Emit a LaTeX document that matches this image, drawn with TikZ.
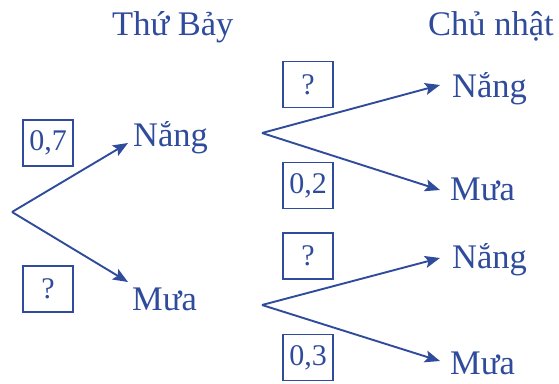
\documentclass[tikz,border=0pt]{standalone}
\usepackage{fontspec}
\setmainfont{Liberation Serif}
\usetikzlibrary{arrows.meta}
\definecolor{tb}{HTML}{2F4B9B}
\tikzset{
  lbl/.style={text=tb,font=\fontsize{34.5}{38}\selectfont,inner sep=0pt,anchor=base west},
  pbox/.style={draw=tb,line width=1.3pt,text=tb,font=\fontsize{30}{32}\selectfont,minimum width=50pt,minimum height=46pt,inner sep=0pt},
  arr/.style={draw=tb,line width=1.9pt,-{Stealth[length=15pt,width=12pt,inset=3pt]}}
}
\begin{document}
\begin{tikzpicture}[x=1pt,y=-1pt]
\useasboundingbox (0,0) rectangle (559,383);
% headings
\node[lbl] (h1) at (112,35) {Thứ Bảy};
\node[lbl] (h2) at (428,35) {Chủ nhật};
% roots
\coordinate (r0) at (12,212);
\coordinate (r1) at (262,133);
\coordinate (r2) at (262,305);
% labels
\node[lbl] (n1) at (133,146) {Nắng};
\node[lbl] (m1) at (132,310) {Mưa};
\node[lbl] (n2) at (452,97) {Nắng};
\node[lbl] (m2) at (450,200) {Mưa};
\node[lbl] (n3) at (452,268) {Nắng};
\node[lbl] (m3) at (450,374) {Mưa};
% arrows
\draw[arr] (r0) -- ([xshift=-5pt,yshift=3pt]n1.base west);
\draw[arr] (r0) -- ([xshift=-4pt,yshift=28pt]m1.base west);
\draw[arr] (r1) -- ([xshift=-12pt,yshift=12pt]n2.base west);
\draw[arr] (r1) -- ([xshift=-10pt,yshift=10pt]m2.base west);
\draw[arr] (r2) -- ([xshift=-12pt,yshift=10pt]n3.base west);
\draw[arr] (r2) -- ([xshift=-10pt,yshift=13pt]m3.base west);
% boxes
\node[pbox] (b1) at (48,143) {0,7};
\node[pbox] (b2) at (48,289) {?};
\node[pbox] (b3) at (308,84.5) {?};
\node[pbox] (b4) at (308,185.5) {0,2};
\node[pbox] (b5) at (308,256) {?};
\node[pbox] (b6) at (308,357.5) {0,3};
\end{tikzpicture}
\end{document}
